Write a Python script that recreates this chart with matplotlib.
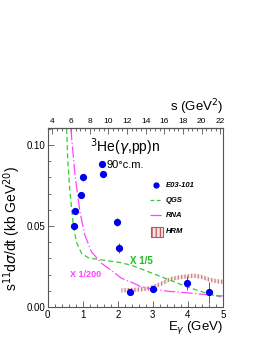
import matplotlib
matplotlib.use("Agg")
import matplotlib.pyplot as plt
import numpy as np
from matplotlib.patches import Rectangle
from matplotlib.ticker import MultipleLocator

plt.rcParams['font.family'] = ['Liberation Sans', 'DejaVu Sans']
plt.rcParams['hatch.linewidth'] = 0.9

# Data (E03-101)
E_data = [0.75, 0.79, 0.95, 1.00, 1.54, 1.59, 1.97, 2.03, 2.35, 3.01, 3.98, 4.61]
y_data = [0.0501, 0.0593, 0.0694, 0.0801, 0.0885, 0.0819, 0.0524, 0.0363, 0.0090, 0.0113, 0.0148, 0.0092]
y_err = [0.0008, 0.0008, 0.0008, 0.0022, 0.0008, 0.0015, 0.0025, 0.0032, 0.0008, 0.0012, 0.0042, 0.0065]

# QGS (x 1/5)
E_qgs = [0.54, 0.57, 0.635, 0.73, 0.82, 0.97, 1.16, 1.44, 2.06, 2.39, 3.0, 3.5, 3.96, 4.5, 5.0]
y_qgs = [0.11, 0.0916, 0.071, 0.0505, 0.040, 0.033, 0.0304, 0.0294, 0.0275, 0.0258, 0.0207, 0.0165, 0.0125, 0.0088, 0.0058]

# RNA (x 1/200)
E_rna = [0.66, 0.78, 0.92, 1.06, 1.25, 1.54, 1.82, 2.1, 2.44, 2.63, 3.0, 3.5, 3.96, 4.5, 5.0]
y_rna = [0.11, 0.0813, 0.0587, 0.0444, 0.034, 0.0269, 0.0225, 0.0178, 0.0148, 0.0128, 0.0109, 0.0096, 0.0088, 0.0077, 0.0068]

# HRM band
E_hrm = [2.1, 2.5, 2.9, 3.2, 3.5, 3.8, 4.0, 4.2, 4.4, 4.6, 4.8, 5.0]
y_hrm = [0.0103, 0.0106, 0.0115, 0.0140, 0.0172, 0.0185, 0.0190, 0.0193, 0.0185, 0.0170, 0.0160, 0.0155]
hrm_halfwidth = 0.0013

s_ticks = [4, 6, 8, 10, 12, 14, 16, 18, 20, 22]
M_d = 1.876

fig = plt.figure(figsize=(2.68, 3.46), dpi=100)
ax = fig.add_axes([0.178, 0.1127, 0.654, 0.517])

green = '#33cc33'
magenta = '#ff44ff'
hrm_col = '#b85858'

yh = np.array(y_hrm)
ax.fill_between(E_hrm, yh - hrm_halfwidth, yh + hrm_halfwidth, facecolor='#f8ecec',
                edgecolor='#c88080', hatch='|||||', linewidth=0)
ax.plot(E_qgs, y_qgs, color=green, lw=0.9, dashes=(4, 2.5))
ax.plot(E_rna, y_rna, color=magenta, lw=0.9, dashes=(9, 2, 1, 2))
ax.errorbar(E_data, y_data, yerr=y_err, fmt='o', color='#0000ee', ms=4.2,
            ecolor='#444444', elinewidth=0.6, capsize=0)

ax.set_xlim(0, 5)
ax.set_ylim(0, 0.1105)
ax.xaxis.set_minor_locator(MultipleLocator(0.2))
ax.yaxis.set_minor_locator(MultipleLocator(0.01))
ax.set_xticks([0, 1, 2, 3, 4, 5])
ax.set_xticklabels(['0', '1', '2', '3', '4', '5'])
ax.set_yticks([0.0, 0.05, 0.10])
ax.set_yticklabels(['0.00', '0.05', '0.10'])
ax.tick_params(which='both', direction='in', top=False, right=False, labelsize=7, color='#555555')
ax.tick_params(which='major', length=4, width=0.6, pad=2)
ax.tick_params(which='minor', length=2, width=0.6)
for sp in ax.spines.values():
    sp.set_linewidth(0.8)
    sp.set_color('#555555')

sec = ax.secondary_xaxis('top', functions=(lambda e: M_d**2 + 2 * M_d * e,
                                           lambda s: (s - M_d**2) / (2 * M_d)))
sec.set_xticks(s_ticks)
sec.xaxis.set_minor_locator(MultipleLocator(0.5))
sec.tick_params(which='both', direction='in', labelsize=6, color='#555555', pad=2)
sec.tick_params(which='major', length=4, width=0.6)
sec.tick_params(which='minor', length=2, width=0.6)

ax.set_xlabel(r'E$_{\gamma}$ (GeV)', fontsize=9.5, ha='right', va='center')
ax.xaxis.set_label_coords(1.0, -0.117)
ax.set_ylabel(r's$^{11}$d$\sigma$/dt (kb GeV$^{20}$)', fontsize=10, ha='center', va='center')
ax.yaxis.set_label_coords(-0.205, 0.44)
ax.text(1.0, 1.117, r's (GeV$^{2}$)', transform=ax.transAxes, fontsize=9.5,
        ha='right', va='center')

ax.text(1.2, 0.0955, r'$^{3}$He($\gamma$,pp)n', fontsize=10, ha='left', va='baseline')
ax.text(1.68, 0.0880, '90°c.m.', fontsize=8, ha='left', va='center')
ax.text(2.35, 0.0283, 'X 1/5', color='#22bb22', fontsize=7, fontweight='bold',
        ha='left', va='center')
ax.text(0.64, 0.0200, 'X 1/200', color=magenta, fontsize=6.5, fontweight='bold',
        ha='left', va='center')

# Legend (manual, in axes fraction)
def fx(px):
    return (px - 47.7) / 175.3

def fy(py):
    return (307 - py) / 179.0

leg_txt = dict(fontsize=5.5, fontweight='bold', style='italic', ha='left', va='center',
               transform=ax.transAxes)
ax.plot([fx(156.5)], [fy(185)], 'o', color='#0000ee', ms=3.5, transform=ax.transAxes)
ax.text(fx(166), fy(185), 'E03-101', **leg_txt)
ax.plot([fx(150), fx(162)], [fy(200), fy(200)], color=green, lw=0.9, dashes=(3, 2),
        transform=ax.transAxes)
ax.text(fx(166), fy(200), 'QGS', **leg_txt)
ax.plot([fx(150), fx(162)], [fy(215), fy(215)], color=magenta, lw=0.9, dashes=(9, 2, 1, 2),
        transform=ax.transAxes)
ax.text(fx(166), fy(215), 'RNA', **leg_txt)
ax.add_patch(Rectangle((fx(151), fy(236.5)), fx(163) - fx(151), fy(226.5) - fy(236.5),
                       transform=ax.transAxes, facecolor='#f6e2e2', edgecolor=hrm_col,
                       hatch='||||', linewidth=0.8))
ax.text(fx(166), fy(231.5), 'HRM', **leg_txt)

fig.savefig('out.png', dpi=100)
